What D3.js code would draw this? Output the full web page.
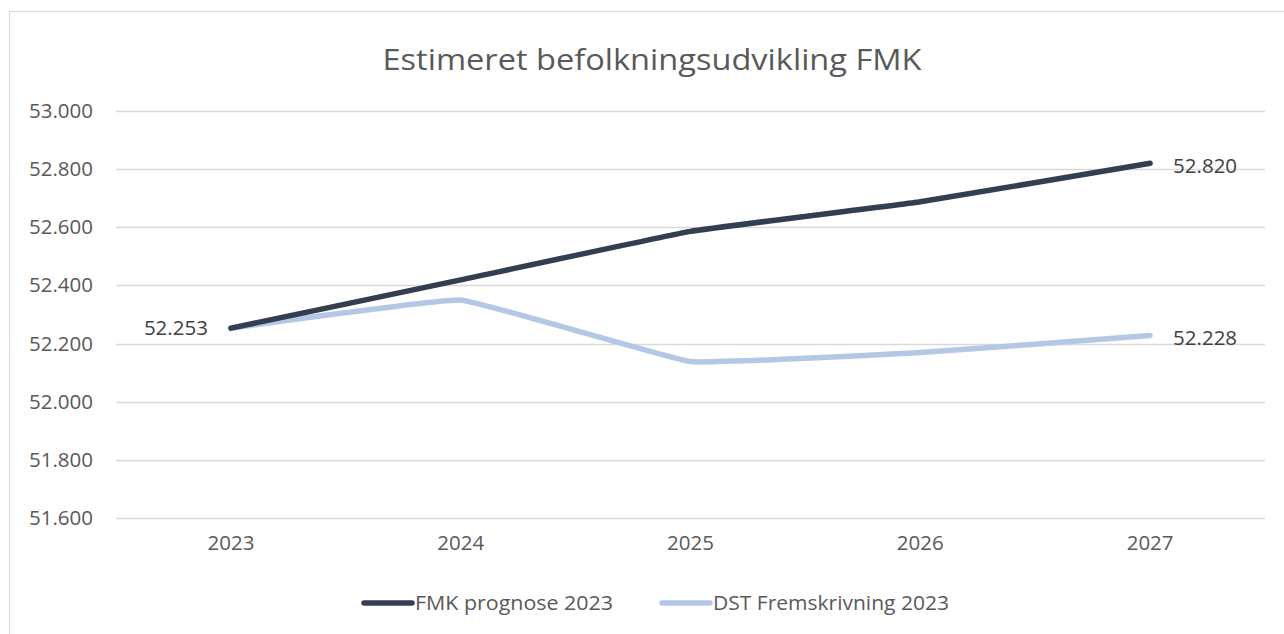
<!DOCTYPE html>
<html><head><meta charset="utf-8">
<script src="https://cdn.jsdelivr.net/npm/d3@7"></script>
<style>html,body{margin:0;padding:0;background:#fff;}svg{display:block;}</style>
</head><body>
<svg id="c" width="1284" height="634"></svg>
<script>
const categories = ["2023","2024","2025","2026","2027"];
const fmkValues = [52253, 52419, 52586, 52688, 52820];
const dstValues = [52253, 52350, 52138, 52169, 52228];
const seriesNames = ["FMK prognose 2023","DST Fremskrivning 2023"];
const yTicks = [51600,51800,52000,52200,52400,52600,52800,53000];
const titleText = "Estimeret befolkningsudvikling FMK";

const series = [
  {name: seriesNames[0], values: fmkValues, color: "#333F50"},
  {name: seriesNames[1], values: dstValues, color: "#B4C7E7"}
];
const fmt = v => d3.format(",")(v).replace(/,/g, ".");
const svg = d3.select("#c");
const font = "'Open Sans', 'Noto Sans', sans-serif";
const fs = "20.5px";

svg.append("rect").attr("x",9.5).attr("y",11.5).attr("width",1290).attr("height",640)
  .attr("fill","#fff").attr("stroke","#d9d9d9").attr("stroke-width",1);

const x = d3.scaleBand().domain(categories).range([116,1265]);
const y = d3.scaleLinear().domain([51600,53000]).range([518,111]);

svg.append("g").selectAll("line").data(yTicks).join("line")
  .attr("x1",116).attr("x2",1265)
  .attr("y1",d=>Math.round(y(d))+0.5).attr("y2",d=>Math.round(y(d))+0.5)
  .attr("stroke","#d9d9d9").attr("stroke-width",1.3);

const yAxis = d3.axisLeft(y).tickValues(yTicks).tickFormat(fmt).tickSize(0).tickPadding(0);
const gy = svg.append("g").attr("transform","translate(93,0)").call(yAxis);
gy.select(".domain").remove();
gy.selectAll("text").attr("fill","#595959").style("font-family",font).style("font-size",fs);

const xAxis = d3.axisBottom(x).tickSize(0).tickPadding(0);
const gx = svg.append("g").attr("transform","translate(0,535)").call(xAxis);
gx.select(".domain").remove();
gx.selectAll("text").attr("fill","#595959").style("font-family",font).style("font-size",fs);

const line = d3.line().x((d,i)=>x(categories[i])+x.bandwidth()/2).y(d=>y(d)).curve(d3.curveCardinal.tension(0.75));
series.slice().reverse().forEach(s=>{
  svg.append("path").datum(s.values).attr("d",line).attr("fill","none")
    .attr("stroke",s.color).attr("stroke-width",5.5).attr("stroke-linecap","round").attr("stroke-linejoin","round");
});

const cx = i => x(categories[i])+x.bandwidth()/2;
const lab = (xx, yy, anchor, v) => svg.append("text").attr("x",xx).attr("y",yy).attr("dy","0.35em")
  .attr("text-anchor",anchor).attr("fill","#404040").style("font-family",font).style("font-size",fs).text(fmt(v));
lab(cx(0)-23, y(fmkValues[0]), "end", fmkValues[0]);
lab(cx(4)+23, y(fmkValues[4])+2, "start", fmkValues[4]);
lab(cx(4)+23, y(dstValues[4])+2, "start", dstValues[4]);

svg.append("text").attr("x",652).attr("y",70).attr("text-anchor","middle")
  .attr("fill","#595959").style("font-family",font).style("font-size","29px")
  .attr("textLength",539).attr("lengthAdjust","spacingAndGlyphs").text(titleText);

const legX = [362, 660];
const legTextW = [198, 236];
series.forEach((s,i)=>{
  svg.append("line").attr("x1",legX[i]+2).attr("x2",legX[i]+50).attr("y1",603).attr("y2",603)
    .attr("stroke",s.color).attr("stroke-width",5.5).attr("stroke-linecap","round");
  svg.append("text").attr("x",legX[i]+53).attr("y",603).attr("dy","0.35em")
    .attr("fill","#595959").style("font-family",font).style("font-size",fs)
    .attr("textLength",legTextW[i]).attr("lengthAdjust","spacingAndGlyphs").text(s.name);
});
</script>
</body></html>
